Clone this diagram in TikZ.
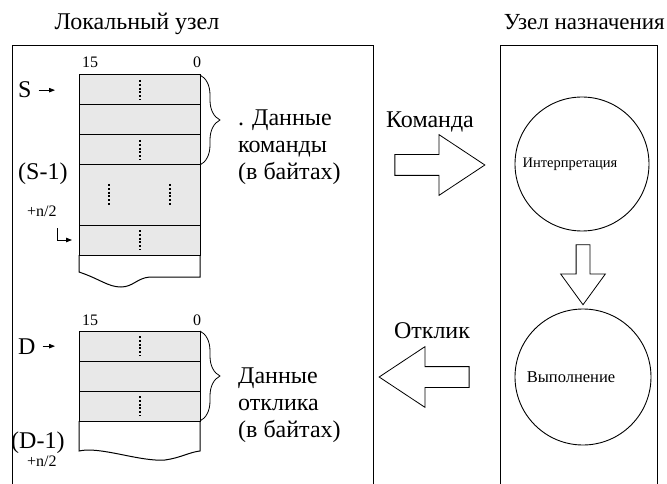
\documentclass[tikz,border=0pt]{standalone}
\usepackage{fontspec}
\setmainfont{Liberation Serif}
\usetikzlibrary{arrows.meta,positioning,shapes.arrows,decorations.pathreplacing}

\begin{document}
\begin{tikzpicture}[
    x=1pt, y=-1pt,
    node distance=0pt,
    cell/.style={
      draw,
      fill=gray!18,
      line width=1pt,
      minimum width=121pt,
      minimum height=30pt,
      inner sep=0pt,
      outer sep=0pt
    },
    panel/.style={draw, line width=0.9pt},
    big/.style={font=\fontsize{24}{27}\selectfont, inner sep=1pt},
    tiny/.style={font=\fontsize{16}{18}\selectfont, inner sep=1pt},
    small/.style={font=\fontsize{14.5}{16}\selectfont},
    dotline/.style={draw=black, line width=2pt, dash pattern=on 2pt off 1.8pt},
    ptr/.style={-{Triangle[length=6pt,width=4.5pt]}, line width=0.8pt},
    brc/.style={decorate, decoration={brace, amplitude=20pt}, line width=0.8pt},
    fat/.style={
      single arrow,
      draw,
      line width=0.8pt,
      inner xsep=0pt,
      inner ysep=10pt,
      minimum width=60pt,
      minimum height=90pt,
      single arrow head extend=20pt,
      single arrow tip angle=67
    }
  ]
  \clip (0,0) rectangle (667,484);

  % two nodes
  \draw[panel] (12,45) rectangle (373,500);
  \draw[panel] (500,45) rectangle (657,500);
  \node[big, anchor=base] (ltitle) at (137,30) {Локальный узел};
  \node[big, anchor=base east, font=\fontsize{23}{27}\selectfont] (ttitle) at (666,30) {Узел назначения};

  % command words
  \node[tiny, anchor=base] (shi) at (90,68) {15};
  \node[tiny, anchor=base] (slo) at (197,68) {0};
  \node[cell, anchor=north west] (s1) at (79,75) {};
  \node[cell, below=of s1] (s2) {};
  \node[cell, below=of s2] (s3) {};
  \node[cell, below=of s3, minimum height=60pt] (s4) {};
  \node[cell, below=of s4] (s5) {};
  \draw[line width=1pt] (s5.south west) -- (79,272)
    .. controls (100,279) and (108,287) .. (121,287)
    .. controls (133,287) and (137,278) .. (150,277)
    -- (200,277) -- (s5.south east);
  \path[dotline] (s1.center) ++(0,-10) -- ++(0,20);
  \path[dotline] (s3.center) ++(0,-10) -- ++(0,20);
  \path[dotline] ([xshift=-31pt]s4.center) ++(0,-11) -- ++(0,22);
  \path[dotline] ([xshift=30pt]s4.center) ++(0,-11) -- ++(0,22);
  \path[dotline] (s5.center) ++(0,-10) -- ++(0,20);

  \node[big, anchor=base west] (sptr) at (17,98) {S};
  \draw[ptr, shorten <=6pt, shorten >=24pt] (sptr.east) -- (sptr.east -| s1.west);
  \node[big, anchor=base west] (sm1) at (17,180) {(S-1)};
  \node[tiny, anchor=base west] (sn2) at (26,216) {+n/2};
  \coordinate (sel) at (57,228);
  \draw[ptr, shorten >=7pt] (sel) |- (s5.west);

  \draw[brc] (s1.north east) -- (s3.south east);
  \node[big, anchor=base west, align=left] (sdata) at (237,179) {. Данные\\команды\\(в байтах)};

  % response words
  \node[tiny, anchor=base] (dhi) at (90,325) {15};
  \node[tiny, anchor=base] (dlo) at (197,325) {0};
  \node[cell, anchor=north west] (d1) at (79,331) {};
  \node[cell, below=of d1] (d2) {};
  \node[cell, below=of d2] (d3) {};
  \draw[line width=1pt] (d3.south west) -- (79,451)
    .. controls (100,446) and (140,462) .. (165,460)
    .. controls (180,458) and (190,452) .. (200,451)
    -- (d3.south east);
  \path[dotline] (d1.center) ++(0,-10) -- ++(0,20);
  \path[dotline] (d3.center) ++(0,-10) -- ++(0,20);

  \node[big, anchor=base west] (dptr) at (17,354) {D};
  \draw[ptr, shorten <=6pt, shorten >=24pt] (dptr.east) -- (dptr.east -| d1.west);
  \node[big, anchor=base west] (dm1) at (10,448) {(D-1)};
  \node[tiny, anchor=base west] (dn2) at (26,466) {+n/2};

  \draw[brc] (d1.north east) -- (d3.south east);
  \node[big, anchor=base west, align=left] (ddata) at (237,437) {Данные\\отклика\\(в байтах)};

  % destination
  \node[circle, draw, line width=0.9pt, minimum size=134pt,
    label={[small, xshift=-12pt]center:Интерпретация}] (interp) at (582,164) {};
  \node[circle, draw, line width=0.9pt, minimum size=136pt,
    label={[small, font=\fontsize{16.5}{18}\selectfont, xshift=-12pt]center:Выполнение}] (exec) at (583,377) {};
  \node[fat, inner xsep=6.5pt, inner ysep=0pt, minimum width=44pt, minimum height=60pt,
    single arrow head extend=15.5pt, single arrow tip angle=72,
    shape border rotate=270] (flow) at (583,270) {};

  \node[fat] (cmdarr) at (432,165) {};
  \node[big, anchor=base] (cmdtxt) at (430,128) {Команда};
  \node[fat, shape border rotate=180] (resarr) at (432,377) {};
  \node[big, anchor=base] (restxt) at (432,338) {Отклик};
\end{tikzpicture}
\end{document}
